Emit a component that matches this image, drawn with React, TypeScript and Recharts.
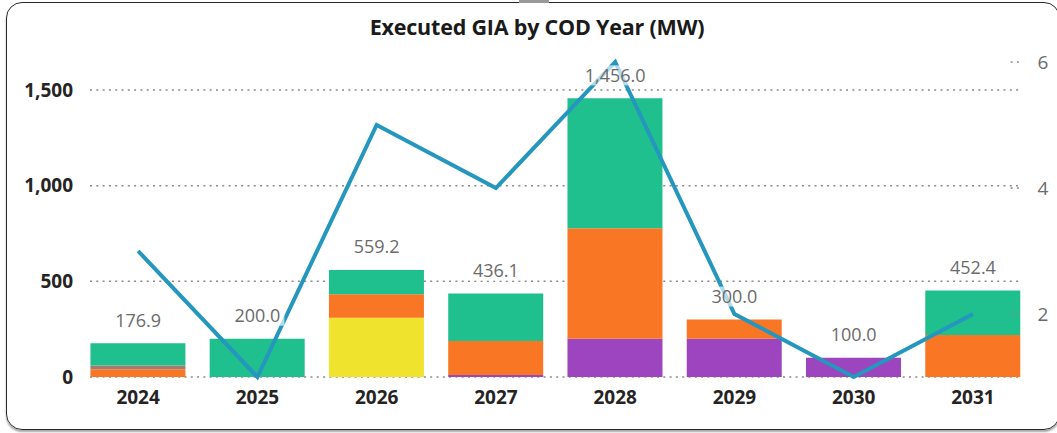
import React from 'react';
import { ComposedChart, Bar, Line, XAxis, YAxis, CartesianGrid } from 'recharts';

const years = ['2024', '2025', '2026', '2027', '2028', '2029', '2030', '2031'];
const purpleMW = [0, 0, 0, 10, 200, 200, 100, 0];
const yellowMW = [0, 0, 310, 0, 0, 0, 0, 0];
const orangeMW = [40, 0, 123, 178, 577, 100, 0, 220];
const brownMW = [20, 0, 0, 0, 0, 0, 0, 0];
const greenMW = [116.9, 200, 126.2, 248.1, 679, 0, 0, 232.4];
const totalMW = [176.9, 200, 559.2, 436.1, 1456, 300, 100, 452.4];
const gIACount = [3, 1, 5, 4, 6, 2, 1, 2];

const leftTicks = [0, 500, 1000, 1500];
const leftDomain: [number, number] = [0, 1646];
const rightTicks = [2, 4, 6];

const data = years.map((y, i) => ({
  year: y,
  purple: purpleMW[i],
  yellow: yellowMW[i],
  orange: orangeMW[i],
  brown: brownMW[i],
  green: greenMW[i],
  total: totalMW[i],
  count: gIACount[i],
}));

const FONT = '"Open Sans", "Noto Sans", sans-serif';

const fmt = (v: number) =>
  v.toLocaleString('en-US', { minimumFractionDigits: 1, maximumFractionDigits: 1 });

const TotalLabel = (props: any) => {
  const { x, y, value } = props;
  if (x == null || y == null) return null;
  const txt = fmt(Number(value));
  const w = txt.length * 10 + 4;
  return (
    <g>
      <rect x={x - w / 2} y={y - 33} width={w} height={20} fill="#ffffff" fillOpacity={0.65} />
      <text
        x={x}
        y={y - 16.5}
        textAnchor="middle"
        fill="#6b6b6b"
        fontSize={18}
        fontFamily={FONT}
      >
        {txt}
      </text>
    </g>
  );
};

const RightTick = (props: any) => {
  const { x, y, payload } = props;
  return (
    <g>
      <line
        x1={x - 22}
        x2={x - 10}
        y1={y}
        y2={y}
        stroke="#8a8a8a"
        strokeWidth={1.5}
        strokeDasharray="2 4.3"
      />
      <text x={x + 5} y={y} dy="0.36em" textAnchor="start" fill="#6b6b6b" fontSize={19} fontFamily={FONT}>
        {payload.value}
      </text>
    </g>
  );
};

const gridGen = (args: any) => {
  const off = args && args.offset ? args.offset : { top: 62, height: 315 };
  const [d0, d1] = leftDomain;
  return leftTicks.map((t) => off.top + off.height * (1 - (t - d0) / (d1 - d0)));
};

export default function App() {
  return (
    <div style={{ position: 'absolute', left: 0, top: 0, width: 1057, height: 433, background: '#fff', overflow: 'hidden' }}>
      <div
        style={{
          position: 'absolute',
          left: 6,
          top: 2,
          width: 1054,
          height: 428,
          border: '1.5px solid #2a2a2a',
          borderRadius: 16,
          boxShadow: '0 2px 2px rgba(0,0,0,0.35)',
          boxSizing: 'border-box',
        }}
      />
      <div style={{ position: 'absolute', left: 519, top: 0, width: 30, height: 3, background: '#9a9a9a' }} />
      <div
        style={{
          position: 'absolute',
          left: 537,
          top: 12,
          transform: 'translateX(-50%)',
          whiteSpace: 'nowrap',
          fontFamily: FONT,
          fontWeight: 700,
          fontSize: 21.5,
          lineHeight: '29px',
          letterSpacing: -0.2,
          color: '#1a1a1a',
        }}
      >
        Executed GIA by COD Year (MW)
      </div>
      <div style={{ position: 'absolute', left: 0, top: 0 }}>
        <ComposedChart
          width={1057}
          height={433}
          data={data}
          margin={{ top: 62, right: 0, bottom: 0, left: 0 }}
          barCategoryGap="10%"
        >
          <CartesianGrid
            vertical={false}
            yAxisId="left"
            x={90}
            width={932}
            stroke="#8a8a8a"
            strokeWidth={1.5}
            strokeDasharray="2 4.3"
            horizontalCoordinatesGenerator={gridGen}
          />
          <XAxis
            dataKey="year"
            axisLine={false}
            tickLine={false}
            height={56}
            tickSize={6}
            tickMargin={7.5}
            interval={0}
            tick={{ fill: '#252423', fontSize: 19, fontWeight: 700, fontFamily: FONT }}
          />
          <YAxis
            yAxisId="left"
            orientation="left"
            width={78.5}
            domain={leftDomain}
            ticks={leftTicks}
            allowDataOverflow
            axisLine={false}
            tickLine={false}
            tickSize={0}
            tickMargin={5.5}
            tickFormatter={(v: number) => v.toLocaleString('en-US')}
            tick={{ fill: '#252423', fontSize: 19, fontWeight: 700, fontFamily: FONT }}
          />
          <YAxis
            yAxisId="right"
            orientation="right"
            width={24.4}
            domain={[1, 6]}
            ticks={rightTicks}
            axisLine={false}
            tickLine={false}
            tickSize={0}
            tickMargin={0}
            tick={<RightTick />}
          />
          <Bar dataKey="purple" stackId="a" yAxisId="left" fill="#9C45BE" isAnimationActive={false} />
          <Bar dataKey="yellow" stackId="a" yAxisId="left" fill="#EFE32E" isAnimationActive={false} />
          <Bar dataKey="orange" stackId="a" yAxisId="left" fill="#F97624" isAnimationActive={false} />
          <Bar dataKey="brown" stackId="a" yAxisId="left" fill="#A47B6E" isAnimationActive={false} />
          <Bar dataKey="green" stackId="a" yAxisId="left" fill="#20BF8E" isAnimationActive={false} />
          <Line
            dataKey="count"
            yAxisId="right"
            type="linear"
            stroke="#2596BE"
            strokeWidth={4}
            dot={false}
            activeDot={false}
            isAnimationActive={false}
          />
          <Line
            dataKey="total"
            yAxisId="left"
            type="linear"
            stroke="none"
            dot={false}
            activeDot={false}
            isAnimationActive={false}
            label={<TotalLabel />}
          />
        </ComposedChart>
      </div>
    </div>
  );
}
